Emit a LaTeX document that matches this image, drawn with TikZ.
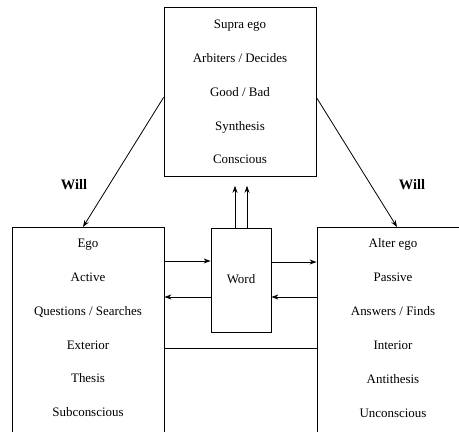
\documentclass[tikz,border=0pt]{standalone}
\usepackage{fontspec}
\setmainfont{Liberation Serif}
\usetikzlibrary{arrows.meta,calc}

\begin{document}
\begin{tikzpicture}[x=1bp,y=-1bp,line width=0.8bp,>={Stealth[length=7bp,width=5bp]},
  panel/.style={draw,anchor=north,inner xsep=0pt,inner ysep=#1},
  will/.style={font=\fontsize{14.5}{18}\selectfont\bfseries}]
\useasboundingbox (0,0) rectangle (459,431);
\newcommand\panellines[2]{\parbox[t][#1][t]{152bp}{\fontsize{13}{34}\selectfont\centering #2}}
  % the three ego panels
  \node[panel=12.5bp] (supra) at (240,7)
    {\panellines{144bp}{Supra ego\\Arbiters / Decides\\Good / Bad\\Synthesis\\Conscious}};
  \node[panel=11.5bp] (ego) at (88,227)
    {\panellines{200bp}{Ego\\Active\\Questions / Searches\\Exterior\\Thesis\\Subconscious}};
  \node[panel=11.5bp] (alter) at (393,227)
    {\panellines{200bp}{Alter ego\\Passive\\Answers / Finds\\Interior\\Antithesis\\Unconscious}};
  % word in the middle
  \node[draw,minimum width=60bp,minimum height=104bp,inner sep=0pt,text depth=3bp,
        font=\fontsize{13}{15}\selectfont] (word) at (241,280) {Word};
  \coordinate (wa) at ([yshift=19bp]word.west);
  \coordinate (wb) at ([yshift=-17bp]word.west);
  \coordinate (wc) at ([yshift=18bp]word.east);
  \coordinate (wd) at ([yshift=-17bp]word.east);
  \coordinate (wl) at ([yshift=-16bp]word.south);
  \draw[->] (ego.east |- wa) -- (wa);
  \draw[<-] (ego.east |- wb) -- (wb);
  \draw[->] (wc) -- (alter.west |- wc);
  \draw[<-] (wd) -- (alter.west |- wd);
  \draw (ego.east |- wl) -- (alter.west |- wl);
  \foreach \dx in {-6,6}{
    \path (word.north) ++(\dx,0) coordinate (up);
    \draw[->,shorten >=9bp] (up) -- (up |- supra.south);}
  % will
  \draw[->] ([yshift=-5.5bp]supra.west) -- ([xshift=-5bp]ego.north);
  \draw[->] ([yshift=-5.5bp]supra.east) -- ([xshift=4bp]alter.north);
  \node[will] (willL) at (74,185) {Will};
  \node[will] (willR) at (412,185) {Will};
\end{tikzpicture}
\end{document}
